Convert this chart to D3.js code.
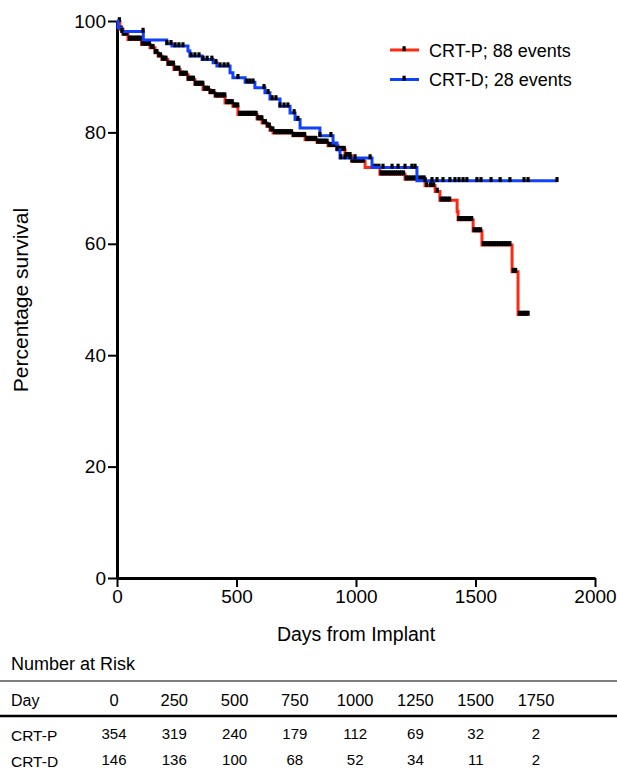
<!DOCTYPE html>
<html>
<head>
<meta charset="utf-8">
<script src="https://cdn.jsdelivr.net/npm/d3@7"></script>
<style>
  body { margin: 0; background: #fff; }
  svg { display: block; font-family: "Liberation Sans", Arial, sans-serif; }
</style>
</head>
<body>
<svg id="km" width="617" height="769"></svg>
<script>
// Kaplan-Meier steps: [day, percent surviving]
const crtPSteps = [[0, 100], [12, 98.5], [25, 97.6], [46, 96.7], [103, 95.8], [138, 95.2], [159, 94.3],
    [172, 93.7], [188, 93.1], [213, 92.2], [238, 91.3], [264, 90.4], [297, 89.5], [326, 88.6],
    [360, 87.7], [389, 87.1], [410, 86.5], [452, 85.3], [485, 84.7], [506, 83.2], [586, 82.4],
    [607, 81.7], [628, 81.1], [640, 80.4], [653, 79.9], [736, 79.4], [787, 78.7], [837, 78.2],
    [883, 77.6], [925, 76.9], [954, 75.8], [983, 74.8], [1038, 73.7], [1100, 72.5], [1205, 71.6],
    [1289, 70.4], [1331, 69.4], [1351, 67.8], [1423, 65.8], [1427, 64.3], [1490, 62.3],
    [1527, 59.8], [1653, 55.0], [1678, 47.3], [1720, 47.3]];

const crtDSteps = [[0, 100], [4, 98.8], [20, 98.1], [110, 96.6], [208, 95.9], [230, 95.5], [297, 94.6],
    [305, 93.7], [356, 93.1], [402, 92.5], [418, 91.9], [473, 90.7], [485, 89.8], [536, 89.0],
    [577, 88.0], [619, 87.1], [640, 86.0], [682, 84.7], [724, 83.5], [745, 82.3], [766, 80.8],
    [849, 79.4], [904, 78.1], [920, 76.9], [933, 75.4], [1067, 73.7], [1255, 71.3], [1841, 71.3]];

// censored days (black ticks)
const crtPCensored = [10, 18, 27, 33, 41, 52, 58, 66, 75, 83, 90, 98, 106, 115, 121, 129, 136, 144, 151,
    160, 167, 175, 182, 190, 197, 205, 214, 220, 228, 236, 243, 251, 259, 266, 274, 281, 290, 298,
    305, 313, 320, 328, 336, 344, 351, 359, 366, 374, 382, 390, 397, 405, 413, 420, 428, 436, 444,
    451, 459, 467, 474, 482, 490, 497, 505, 513, 520, 528, 536, 544, 551, 559, 567, 575, 582, 590,
    598, 606, 613, 621, 629, 637, 644, 652, 660, 668, 676, 683, 691, 699, 707, 714, 722, 730, 738,
    746, 754, 761, 769, 777, 785, 793, 801, 808, 816, 824, 832, 840, 848, 856, 863, 871, 879, 887,
    895, 903, 911, 919, 927, 935, 943, 951, 959, 967, 975, 983, 991, 999, 1007, 1015, 1023, 1031,
    1072, 1084, 1096, 1105, 1113, 1121, 1130, 1139, 1147, 1156, 1165, 1173, 1182, 1190, 1199,
    1210, 1220, 1230, 1240, 1250, 1262, 1274, 1285, 1296, 1312, 1325, 1340, 1356, 1365, 1374,
    1383, 1392, 1430, 1439, 1448, 1457, 1466, 1475, 1484, 1494, 1503, 1512, 1521, 1533, 1542,
    1551, 1560, 1569, 1578, 1587, 1596, 1608, 1617, 1626, 1635, 1644, 1658, 1668, 1684, 1693,
    1702, 1711, 1720];

const crtDCensored = [21, 109, 209, 226, 243, 259, 276, 310, 326, 343, 360, 377, 397, 414, 431, 448, 464,
    506, 544, 556, 569, 615, 632, 649, 665, 682, 699, 715, 741, 757, 849, 895, 921, 937, 954, 975,
    996, 1059, 1113, 1151, 1176, 1205, 1234, 1247, 1289, 1318, 1339, 1364, 1393, 1414, 1431, 1448,
    1464, 1506, 1523, 1565, 1603, 1644, 1703, 1720, 1841];

const xTicks = [0, 500, 1000, 1500, 2000];
const yTicks = [0, 20, 40, 60, 80, 100];

const legendLabels = ["CRT-P; 88 events", "CRT-D; 28 events"];

// number at risk table
const riskDays = [0, 250, 500, 750, 1000, 1250, 1500, 1750];
const riskCrtP = [354, 319, 240, 179, 112, 69, 32, 2];
const riskCrtD = [146, 136, 100, 68, 52, 34, 11, 2];

const COLORS = { p: "#ff2a10", d: "#1040ff" };

class SurvivalChart {
    constructor(selector) {
        this.svg = d3.select(selector);
        this.x = d3.scaleLinear().domain([0, 2000]).range([117, 595]);
        this.y = d3.scaleLinear().domain([0, 100]).range([578, 21]);
    }

    draw() {
        this.drawAxes();
        this.drawCurve(crtPSteps, crtPCensored, COLORS.p);
        this.drawCurve(crtDSteps, crtDCensored, COLORS.d);
        this.drawLegend();
        this.drawRiskTable();
    }

    drawAxes() {
        const xAxis = d3.axisBottom(this.x).tickValues(xTicks).tickFormat(d3.format("d"))
            .tickSize(9).tickSizeOuter(0).tickPadding(3);
        const yAxis = d3.axisLeft(this.y).tickValues(yTicks).tickFormat(d3.format("d"))
            .tickSize(9).tickSizeOuter(0).tickPadding(2);

        const gx = this.svg.append("g").attr("transform", `translate(0,${this.y(0)})`).call(xAxis);
        const gy = this.svg.append("g").attr("transform", `translate(${this.x(0)},0)`).call(yAxis);

        [gx, gy].forEach(g => {
            g.select(".domain").attr("stroke", "#000").attr("stroke-width", 3);
            g.selectAll(".tick line").attr("stroke", "#000").attr("stroke-width", 2);
            g.selectAll(".tick text")
                .attr("fill", "#000")
                .style("font-size", "19px")
                .style("font-family", "'Liberation Sans', Arial, sans-serif");
        });

        this.svg.append("text")
            .attr("x", 356)
            .attr("y", 641)
            .attr("text-anchor", "middle")
            .style("font-size", "19.5px")
            .text("Days from Implant");

        this.svg.append("text")
            .attr("transform", "translate(28,300) rotate(-90)")
            .attr("text-anchor", "middle")
            .style("font-size", "21px")
            .text("Percentage survival");
    }

    survivalAt(steps, day) {
        const i = d3.bisector(d => d[0]).right(steps, day) - 1;
        return steps[Math.max(0, i)][1];
    }

    drawCurve(steps, censored, color) {
        const line = d3.line()
            .x(d => this.x(d[0]))
            .y(d => this.y(d[1]))
            .curve(d3.curveStepAfter);

        this.svg.append("path")
            .datum(steps)
            .attr("d", line)
            .attr("fill", "none")
            .attr("stroke", color)
            .attr("stroke-width", 3);

        this.svg.append("g")
            .selectAll("rect")
            .data(censored)
            .enter()
            .append("rect")
            .attr("x", d => this.x(d) - 1.6)
            .attr("y", d => this.y(this.survivalAt(steps, d)) - 3.8)
            .attr("width", 3.2)
            .attr("height", 5)
            .attr("fill", "#000");
    }

    drawLegend() {
        const rows = [COLORS.p, COLORS.d];
        rows.forEach((color, i) => {
            const cy = 50 + i * 29.5;
            this.svg.append("line")
                .attr("x1", 390).attr("x2", 419)
                .attr("y1", cy).attr("y2", cy)
                .attr("stroke", color)
                .attr("stroke-width", 3);
            this.svg.append("rect")
                .attr("x", 402.5).attr("y", cy - 3.8)
                .attr("width", 3.2).attr("height", 5)
                .attr("fill", "#000");
            this.svg.append("text")
                .attr("x", 429)
                .attr("y", cy + 6.5)
                .style("font-size", "18px")
                .text(legendLabels[i]);
        });
    }

    drawRiskTable() {
        const col = d3.scaleLinear().domain([0, 1750]).range([114, 536]);

        this.svg.append("text")
            .attr("x", 11).attr("y", 670)
            .style("font-size", "18px")
            .text("Number at Risk");

        this.svg.append("line")
            .attr("x1", 0).attr("x2", 617)
            .attr("y1", 681).attr("y2", 681)
            .attr("stroke", "#555").attr("stroke-width", 1.5);

        this.svg.append("line")
            .attr("x1", 0).attr("x2", 617)
            .attr("y1", 716).attr("y2", 716)
            .attr("stroke", "#000").attr("stroke-width", 2.5);

        this.svg.append("text")
            .attr("x", 11).attr("y", 706)
            .style("font-size", "16px")
            .text("Day");

        this.svg.append("g")
            .selectAll("text")
            .data(riskDays)
            .enter()
            .append("text")
            .attr("x", d => col(d))
            .attr("y", 706)
            .attr("text-anchor", "middle")
            .style("font-size", "16.5px")
            .text(d => d);

        const groups = [
            { label: "CRT-P", values: riskCrtP, labelY: 741, valueY: 739 },
            { label: "CRT-D", values: riskCrtD, labelY: 767, valueY: 765 }
        ];

        groups.forEach(g => {
            this.svg.append("text")
                .attr("x", 11).attr("y", g.labelY)
                .style("font-size", "15.5px")
                .text(g.label);

            this.svg.append("g")
                .selectAll("text")
                .data(g.values)
                .enter()
                .append("text")
                .attr("x", (d, i) => col(riskDays[i]))
                .attr("y", g.valueY)
                .attr("text-anchor", "middle")
                .style("font-size", "15px")
                .text(d => d);
        });
    }
}

const chart = new SurvivalChart("#km");
chart.draw();
</script>
</body>
</html>
